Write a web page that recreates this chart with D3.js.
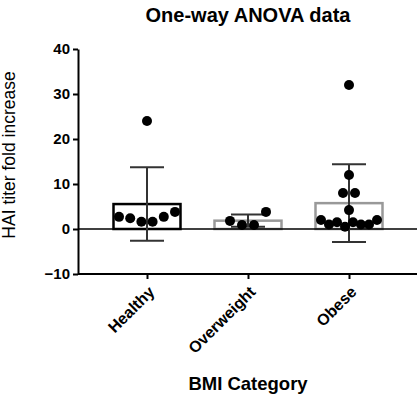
<!DOCTYPE html>
<html>
<head>
<meta charset="utf-8">
<script src="https://cdn.jsdelivr.net/npm/d3@7"></script>
<style>
  body { margin: 0; background: #fff; }
  svg { display: block; font-family: Arial, "Liberation Sans", sans-serif; }
</style>
</head>
<body>
<div class="container"></div>
<script>
const categories = ['Healthy', 'Overweight', 'Obese'];
const healthy = [24, 2.7, 2.4, 1.6, 1.6, 2.7, 3.8];
const overweight = [1.8, 0.9, 0.9, 3.8];
const obese = [32, 12, 8, 8, 4.2, 2, 1, 1.5, 0.5, 1.5, 1, 1, 2];
const yTicks = [-10, 0, 10, 20, 30, 40];

const width = 420;
const height = 402;
const dotRadius = 5;
const barWidth = 67;
const capWidth = 34;
const rowGap = 9.5;
const maxSpread = 56;
const barColors = ['#000', '#999', '#999'];

const groups = [healthy, overweight, obese].map((values, i) => ({
    name: categories[i],
    values,
    mean: d3.mean(values),
    sd: d3.deviation(values),
}));

const svg = d3.select('.container')
    .append('svg')
    .attr('width', width)
    .attr('height', height);

const y = d3.scaleLinear().domain([-10, 40]).range([274, 49]);
const x = d3.scalePoint().domain(categories).range([96.5, 399.5]).padding(0.5);
const pxPerUnit = y(0) - y(1);

// spread points that would overlap into rows, like a column scatter
function spreadPoints(values, cx) {
    const order = d3.range(values.length).sort((a, b) => values[b] - values[a]);
    const rows = [];
    let cur = [order[0]];
    for (let i = 1; i < order.length; i++) {
        const prev = order[i - 1];
        if ((values[prev] - values[order[i]]) * pxPerUnit >= rowGap) {
            rows.push(cur);
            cur = [];
        }
        cur.push(order[i]);
    }
    rows.push(cur);
    const pts = [];
    rows.forEach(row => {
        row.sort((a, b) => a - b);
        const n = row.length;
        const step = n > 1 ? Math.min(12, maxSpread / (n - 1)) : 0;
        row.forEach((idx, j) => {
            pts.push({ x: cx + (j - (n - 1) / 2) * step, y: y(values[idx]) });
        });
    });
    return pts;
}

// title
svg.append('text')
    .attr('x', 248).attr('y', 22)
    .attr('text-anchor', 'middle')
    .style('font-size', '20px').style('font-weight', 'bold')
    .text('One-way ANOVA data');

// bars
svg.selectAll('.bar')
    .data(groups)
    .enter()
    .append('rect')
    .attr('class', 'bar')
    .attr('x', d => x(d.name) - barWidth / 2)
    .attr('y', d => y(d.mean))
    .attr('width', barWidth)
    .attr('height', d => y(0) - y(d.mean))
    .attr('fill', 'none')
    .attr('stroke', (d, i) => barColors[i])
    .attr('stroke-width', 2.5);

// zero line
svg.append('line')
    .attr('x1', 78).attr('x2', 417)
    .attr('y1', y(0)).attr('y2', y(0))
    .attr('stroke', '#000').attr('stroke-width', 1.6);

// error bars
const err = svg.selectAll('.err')
    .data(groups)
    .enter()
    .append('g')
    .attr('class', 'err')
    .attr('stroke', '#333')
    .attr('stroke-width', 2);
err.append('line')
    .attr('x1', d => x(d.name)).attr('x2', d => x(d.name))
    .attr('y1', d => y(d.mean + d.sd)).attr('y2', d => y(d.mean - d.sd));
err.append('line')
    .attr('x1', d => x(d.name) - capWidth / 2).attr('x2', d => x(d.name) + capWidth / 2)
    .attr('y1', d => y(d.mean + d.sd)).attr('y2', d => y(d.mean + d.sd));
err.append('line')
    .attr('x1', d => x(d.name) - capWidth / 2).attr('x2', d => x(d.name) + capWidth / 2)
    .attr('y1', d => y(d.mean - d.sd)).attr('y2', d => y(d.mean - d.sd));

// points
groups.forEach(g => {
    svg.append('g')
        .selectAll('circle')
        .data(spreadPoints(g.values, x(g.name)))
        .enter()
        .append('circle')
        .attr('cx', d => d.x)
        .attr('cy', d => d.y)
        .attr('r', dotRadius)
        .attr('fill', '#000');
});

// y axis
const yAxis = svg.append('g')
    .attr('transform', 'translate(78,0)')
    .call(d3.axisLeft(y).tickValues(yTicks).tickSize(5).tickPadding(3).tickSizeOuter(0));
yAxis.select('.domain').attr('stroke', '#000').attr('stroke-width', 2);
yAxis.selectAll('.tick line').attr('stroke', '#000').attr('stroke-width', 2);
yAxis.selectAll('.tick text')
    .attr('fill', '#000')
    .style('font-size', '15px').style('font-weight', 'bold');

// x axis
const xAxis = svg.append('g')
    .attr('transform', `translate(0,${y(-10)})`)
    .call(d3.axisBottom(x).tickSize(5).tickSizeOuter(0));
xAxis.select('.domain').attr('d', 'M78,0H417').attr('stroke', '#000').attr('stroke-width', 2);
xAxis.selectAll('.tick line').attr('stroke', '#000').attr('stroke-width', 2);
xAxis.selectAll('.tick text')
    .attr('fill', '#000')
    .attr('text-anchor', 'end')
    .attr('y', 0).attr('dy', 0)
    .attr('transform', 'translate(8,19) rotate(-45)')
    .style('font-size', '16px').style('font-weight', 'bold');

// axis titles
svg.append('text')
    .attr('transform', 'translate(15,155) rotate(-90)')
    .attr('text-anchor', 'middle')
    .style('font-size', '17.5px')
    .text('HAI titer fold increase');

svg.append('text')
    .attr('x', 248).attr('y', 390)
    .attr('text-anchor', 'middle')
    .style('font-size', '18.5px').style('font-weight', 'bold')
    .text('BMI Category');
</script>
</body>
</html>
